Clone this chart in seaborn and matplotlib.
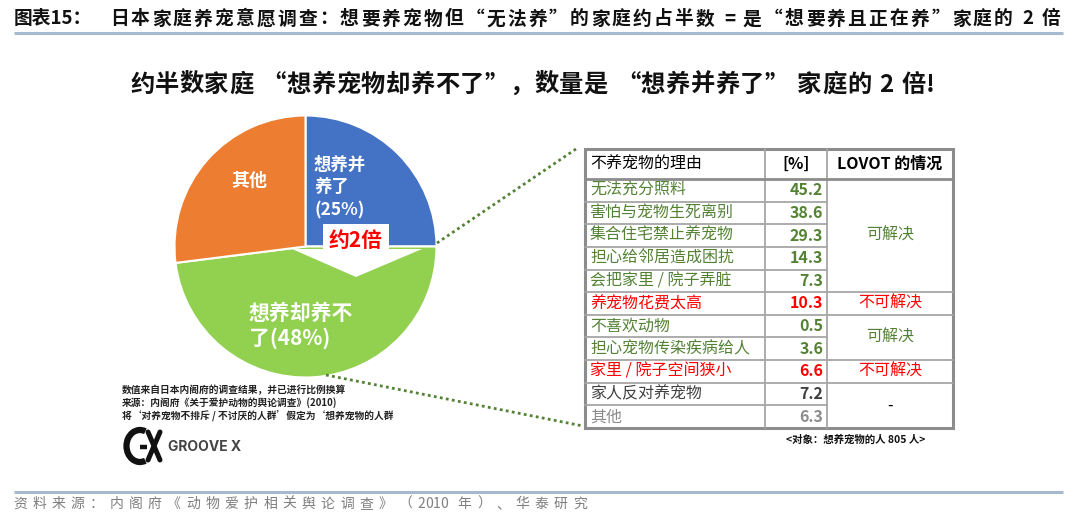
import matplotlib
matplotlib.use("Agg")
import matplotlib.pyplot as plt
import matplotlib.patches as mpatches
import seaborn as sns

# ---------------- data ----------------
pie_labels = ["想养并\n养了", "想养却养不\n了", "其他"]
pie_values = [25, 48, 27]
pie_colors = ["#4472C4", "#92D050", "#ED7D31"]

reasons = ["无法充分照料", "害怕与宠物生死离别", "集合住宅禁止养宠物", "担心给邻居造成困扰",
           "会把家里 / 院子弄脏", "养宠物花费太高", "不喜欢动物", "担心宠物传染疾病给人",
           "家里 / 院子空间狭小", "家人反对养宠物", "其他"]
reason_pct = [45.2, 38.6, 29.3, 14.3, 7.3, 10.3, 0.5, 3.6, 6.6, 7.2, 6.3]
reason_color = ["#548235"] * 5 + ["#FF0000"] + ["#548235"] * 2 + ["#FF0000"] + ["#404040", "#8C8C8C"]
# merged LOVOT status cells: (first row, last row, text, colour)
lovot_status = [(0, 4, "可解决", "#548235"), (5, 5, "不可解决", "#FF0000"),
                (6, 7, "可解决", "#548235"), (8, 8, "不可解决", "#FF0000"),
                (9, 10, "-", "#000000")]
table_header = ["不养宠物的理由", "[%]", "LOVOT 的情况"]

title_head = "图表15："
title = "日本家庭养宠意愿调查：想要养宠物但“无法养”的家庭约占半数 = 是“想要养且正在养”家庭的 2 倍"
subtitle = "约半数家庭 “想养宠物却养不了”，数量是 “想养并养了” 家庭的 2 倍!"
notes = ["数值来自日本内阁府的调查结果，并已进行比例换算",
         "来源：内阁府《关于爱护动物的舆论调查》(2010)",
         "将‘对养宠物不排斥 / 不讨厌的人群’假定为‘想养宠物的人群"]
target_note = "<对象：想养宠物的人 805 人>"
source = "资料来源：内阁府《动物爱护相关舆论调查》（2010 年）、华泰研究"

# ---------------- style ----------------
sns.set_theme(style="white")
plt.rcParams["font.family"] = ["Noto Sans CJK SC", "DejaVu Sans"]

W, H = 1080, 525
fig = plt.figure(figsize=(W / 100, H / 100), dpi=100)
fig.patch.set_facecolor("white")

# pie axes (square in pixels)
cx, cy, R = 305.5, 246.5, 131
pax = fig.add_axes([(cx - R) / W, (H - cy - R) / H, 2 * R / W, 2 * R / H])
wedges, _ = pax.pie(pie_values, colors=pie_colors, startangle=90, counterclock=False,
                    radius=1, wedgeprops=dict(edgecolor="white", linewidth=1.5))
pax.set_xlim(-1, 1)
pax.set_ylim(-1, 1)
pax.axis("off")

# overlay axes in pixel coordinates (y downward)
ax = fig.add_axes([0, 0, 1, 1], facecolor="none")
ax.set_xlim(0, W)
ax.set_ylim(H, 0)
ax.axis("off")
renderer = fig.canvas.get_renderer()


def fit_text(s, x0, x1, y, **kw):
    """Draw s char by char; extra spacing goes after wide (CJK) characters and spaces."""
    widths = []
    for ch in s:
        if ch == " ":
            widths.append(kw.get("fontsize", 10) * 100 / 72 * 0.3)
            continue
        t = ax.text(0, y, ch, **kw)
        widths.append(t.get_window_extent(renderer=renderer).width)
        t.remove()
    spaced = [ord(ch) > 127 or ch == " " for ch in s[:-1]] + [False]
    gap = (x1 - x0 - sum(widths)) / max(sum(spaced), 1)
    x = x0
    for ch, w, sp in zip(s, widths, spaced):
        if ch != " ":
            ax.text(x, y, ch, ha="left", va="center", **kw)
        x += w + (gap if sp else 0)


# header / footer rules
ax.plot([14, 1063], [33, 33], color="#A7B9D1", lw=2.2, solid_capstyle="butt")
ax.plot([14, 1063], [492, 492], color="#A7B9D1", lw=2.2, solid_capstyle="butt")
ax.text(14, 19, title_head, fontsize=13.5, fontweight="bold", color="#111111",
        ha="left", va="center")
fit_text(title, 110, 1060, 19, fontsize=13.5, fontweight="bold", color="#111111")
fit_text(subtitle, 130, 935, 85, fontsize=17.5, fontweight="bold", color="#111111")
fit_text(source, 13, 587, 504, fontsize=10, color="#7F7F7F")

# pie labels
ax.text(314, 188, f"{pie_labels[0]}\n({pie_values[0]}%)", fontsize=12.5, fontweight="bold",
        color="white", ha="left", va="center", linespacing=1.35)
ax.text(249, 326, f"{pie_labels[1]}({pie_values[1]}%)", fontsize=15, fontweight="bold",
        color="white", ha="left", va="center", linespacing=1.25)
ax.text(249, 180, pie_labels[2], fontsize=13, fontweight="bold", color="white",
        ha="center", va="center")

# "about 2x" arrow
ax.add_patch(mpatches.Polygon([(323, 224), (389, 224), (389, 249), (422, 249), (356, 277),
                               (292, 249), (323, 249)], closed=True, facecolor="white",
                              edgecolor="none", zorder=3))
ax.text(356, 240, "约2倍", fontsize=15, fontweight="bold", color="#FF0000",
        ha="center", va="center", zorder=4)

# dotted connector lines
ax.plot([437, 576], [243, 149], color="#548235", lw=2, ls=(0, (1, 1.2)))
ax.plot([326, 583], [375, 426], color="#548235", lw=2, ls=(0, (1, 1.2)))

# table
xs = [585, 765, 827, 953]
y_top, y_head = 149, 179
row_h = (428.3 - 179.3) / len(reasons)
ys = [y_head + i * row_h for i in range(len(reasons) + 1)]
grid = "#A6A6A6"
ax.add_patch(mpatches.Rectangle((xs[0], y_top), xs[3] - xs[0], ys[-1] - y_top,
                                facecolor="white", edgecolor="#8C8C8C", lw=2.2, zorder=2))
for x in xs[1:3]:
    ax.plot([x, x], [y_top, ys[-1]], color=grid, lw=1.3, zorder=3)
ax.plot([xs[0], xs[3]], [y_head, y_head], color="#8C8C8C", lw=2, zorder=3)
merged_inner = set()
for a, b, _, _ in lovot_status:
    for r in range(a, b):
        merged_inner.add(r + 1)
for i in range(1, len(reasons)):
    x_end = xs[2] if i in merged_inner else xs[3]
    ax.plot([xs[0], x_end], [ys[i], ys[i]], color=grid, lw=1.3, zorder=3)

fs_t = 11.5
ax.text(590, (y_top + y_head) / 2, table_header[0], fontsize=fs_t, color="black",
        ha="left", va="center", zorder=4)
ax.text((xs[1] + xs[2]) / 2, (y_top + y_head) / 2, table_header[1], fontsize=fs_t,
        fontweight="bold", color="black", ha="center", va="center", zorder=4)
ax.text((xs[2] + xs[3]) / 2, (y_top + y_head) / 2, table_header[2], fontsize=fs_t,
        fontweight="bold", color="black", ha="center", va="center", zorder=4)
for i, (name, pct, col) in enumerate(zip(reasons, reason_pct, reason_color)):
    ym = (ys[i] + ys[i + 1]) / 2
    ax.text(590, ym, name, fontsize=fs_t, color=col, ha="left", va="center", zorder=4)
    ax.text(823, ym, f"{pct:.1f}", fontsize=fs_t, fontweight="bold", color=col,
            ha="right", va="center", zorder=4)
for a, b, txt, col in lovot_status:
    ym = (ys[a] + ys[b + 1]) / 2
    ax.text((xs[2] + xs[3]) / 2, ym, txt, fontsize=fs_t, color=col,
            ha="center", va="center", zorder=4)

ax.text(925, 440, target_note, fontsize=7.5, fontweight="bold", color="#111111",
        ha="right", va="center")

# notes
for k, line in enumerate(notes):
    ax.text(122, 390 + k * 12.5, line, fontsize=7, fontweight="bold", color="#222222",
            ha="left", va="center")

# GROOVE X logo
ax.add_patch(mpatches.Arc((140, 446), 27, 32, theta1=70, theta2=290, lw=4.5, color="#111111"))
ax.plot([140, 147], [447, 447], color="#111111", lw=3.2, solid_capstyle="butt")
ax.plot([148, 160], [432, 460], color="#111111", lw=3.6, solid_capstyle="round")
ax.plot([160, 148], [432, 460], color="#111111", lw=3.6, solid_capstyle="round")
ax.text(168, 447, "GROOVE X", fontsize=10, fontweight="bold", color="#444444",
        ha="left", va="center", family=["Inter", "DejaVu Sans"])

fig.savefig("out.png", dpi=100)
